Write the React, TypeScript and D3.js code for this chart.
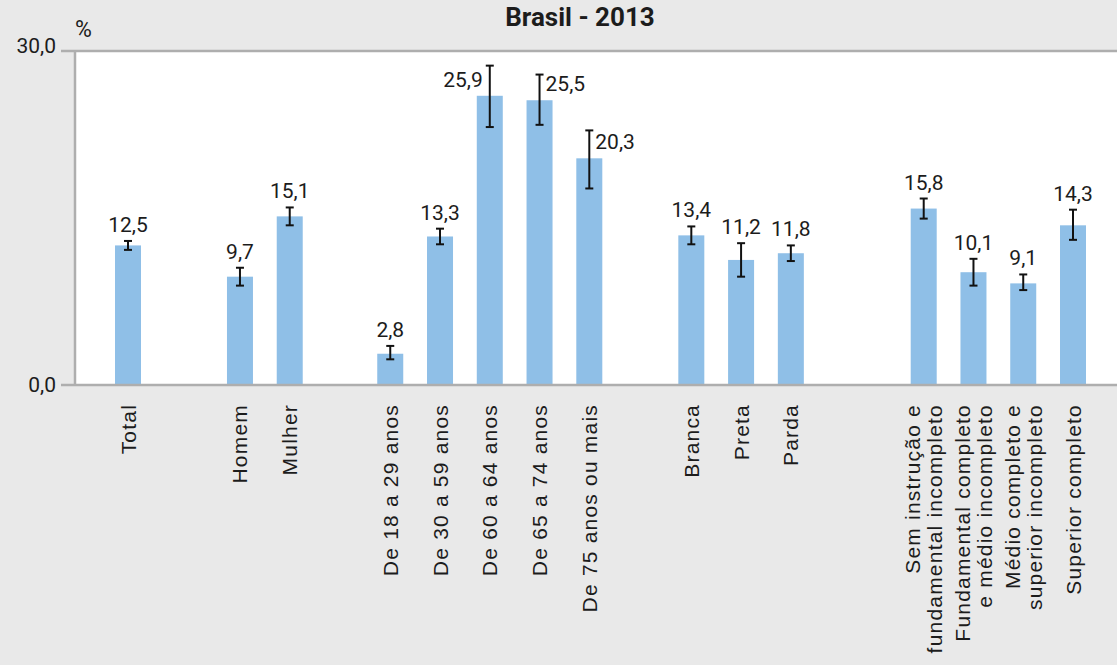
import React, { useEffect, useRef } from "react";
import * as d3 from "d3";

const title = "Brasil - 2013";
const unitLabel = "%";
const categories = [
  "Total",
  "Homem",
  "Mulher",
  "De 18 a 29 anos",
  "De 30 a 59 anos",
  "De 60 a 64 anos",
  "De 65 a 74 anos",
  "De 75 anos ou mais",
  "Branca",
  "Preta",
  "Parda",
  "Sem instrução e\nfundamental incompleto",
  "Fundamental completo\ne médio incompleto",
  "Médio completo e\nsuperior incompleto",
  "Superior completo",
];
const groupOf = [0, 1, 1, 2, 2, 2, 2, 2, 3, 3, 3, 4, 4, 4, 4];
const values = [12.5, 9.7, 15.1, 2.8, 13.3, 25.9, 25.5, 20.3, 13.4, 11.2, 11.8, 15.8, 10.1, 9.1, 14.3];
const lower = [12.1, 8.9, 14.3, 2.3, 12.6, 23.1, 23.3, 17.6, 12.6, 9.7, 11.1, 14.9, 8.9, 8.5, 13.0];
const upper = [12.9, 10.5, 15.9, 3.5, 14.0, 28.6, 27.8, 22.8, 14.2, 12.7, 12.5, 16.7, 11.3, 9.9, 15.7];
// where the value label sits relative to its bar
const labelSide = ["top", "top", "top", "top", "top", "left", "right", "right", "top", "top", "top", "top", "top", "top", "top"];
const yTicks = [0, 30];
// extra empty space (in bar slots) before each group
const groupGapSlots = [0, 1.25, 1.02, 1.05, 1.67];

export default function App() {
  const ref = useRef<SVGSVGElement>(null);

  useEffect(() => {
    const W = 1117, H = 665;
    const svg = d3.select(ref.current);
    svg.selectAll("*").remove();

    const left = 75, top = 51, bottom = 385;
    const bg = "#e9e9e9";
    const axisCol = "#aeaeae";
    const barCol = "#8fbfe7";
    const textCol = "#1c1c1c";

    svg.append("rect").attr("width", W).attr("height", H).attr("fill", bg);

    let extra = 0;
    const slot = categories.map((_, i) => {
      if (i > 0 && groupOf[i] !== groupOf[i - 1]) extra += groupGapSlots[groupOf[i]];
      return i + extra;
    });
    const x = d3.scaleLinear().domain([0, slot[slot.length - 1]]).range([128, 1073]);
    const y = d3.scaleLinear().domain([0, 30]).range([bottom, 50]);
    const bw = 26;

    svg.append("rect").attr("x", left).attr("y", top).attr("width", W - left).attr("height", bottom - top).attr("fill", "#fff");

    svg.append("text").attr("x", 580).attr("y", 26).attr("text-anchor", "middle")
      .attr("font-family", "Roboto, 'Liberation Sans', sans-serif").attr("font-weight", "bold")
      .attr("font-size", 26).attr("fill", textCol).text(title);

    svg.append("text").attr("x", 75).attr("y", 37)
      .attr("font-family", "Roboto, 'Liberation Sans', sans-serif")
      .attr("font-size", 23).attr("fill", textCol).text(unitLabel);

    svg.append("g").selectAll("rect").data(values).join("rect")
      .attr("x", (_, i) => x(slot[i]) - bw / 2)
      .attr("y", (d) => y(d))
      .attr("width", bw)
      .attr("height", (d) => y(0) - y(d))
      .attr("fill", barCol);

    const eg = svg.append("g").attr("stroke", "#111").attr("stroke-width", 2);
    values.forEach((_, i) => {
      const cx = x(slot[i]);
      eg.append("line").attr("x1", cx).attr("x2", cx).attr("y1", y(lower[i])).attr("y2", y(upper[i]));
      eg.append("line").attr("x1", cx - 4).attr("x2", cx + 4).attr("y1", y(lower[i])).attr("y2", y(lower[i]));
      eg.append("line").attr("x1", cx - 4).attr("x2", cx + 4).attr("y1", y(upper[i])).attr("y2", y(upper[i]));
    });

    const fmt = (v: number) => d3.format(".1f")(v).replace(".", ",");

    svg.append("g").selectAll("text").data(values).join("text")
      .attr("font-family", "Roboto, 'Liberation Sans', sans-serif")
      .attr("font-size", 21).attr("fill", textCol)
      .attr("x", (_, i) => {
        const cx = x(slot[i]);
        if (labelSide[i] === "left") return cx - 7;
        if (labelSide[i] === "right") return cx + 6;
        return cx;
      })
      .attr("y", (d, i) => (labelSide[i] === "top" ? y(upper[i]) - 9 : y(d) - 9))
      .attr("text-anchor", (_, i) => (labelSide[i] === "left" ? "end" : labelSide[i] === "right" ? "start" : "middle"))
      .text((d) => fmt(d));

    const ag = svg.append("g").attr("stroke", axisCol).attr("stroke-width", 2.5);
    ag.append("line").attr("x1", left).attr("x2", left).attr("y1", top).attr("y2", bottom);
    yTicks.forEach((t) => {
      const yy = y(t) + (t === 30 ? 1 : 0);
      ag.append("line").attr("x1", 61).attr("x2", W).attr("y1", yy).attr("y2", yy);
    });
    svg.append("g").selectAll("text").data(yTicks).join("text")
      .attr("x", 56).attr("y", (d) => y(d) + (d === 30 ? 3 : 7))
      .attr("text-anchor", "end")
      .attr("font-family", "Roboto, 'Liberation Sans', sans-serif")
      .attr("font-size", 21).attr("fill", textCol)
      .text((d) => fmt(d));

    const lg = svg.append("g")
      .attr("font-family", "'Liberation Sans', Arial, sans-serif")
      .attr("font-size", 21).attr("fill", textCol).attr("letter-spacing", 1.2);
    categories.forEach((c, i) => {
      const lines = c.split("\n");
      const cx = x(slot[i]);
      const lh = 22;
      lines.forEach((ln, j) => {
        const off = (j - (lines.length - 1) / 2) * lh;
        lg.append("text")
          .attr("transform", `translate(${cx + off + 7.5},404) rotate(-90)`)
          .attr("text-anchor", "end")
          .text(ln);
      });
    });
  }, []);

  return (
    <svg ref={ref} width={1117} height={665}
      style={{ position: "absolute", left: 0, top: 0, display: "block" }} />
  );
}
